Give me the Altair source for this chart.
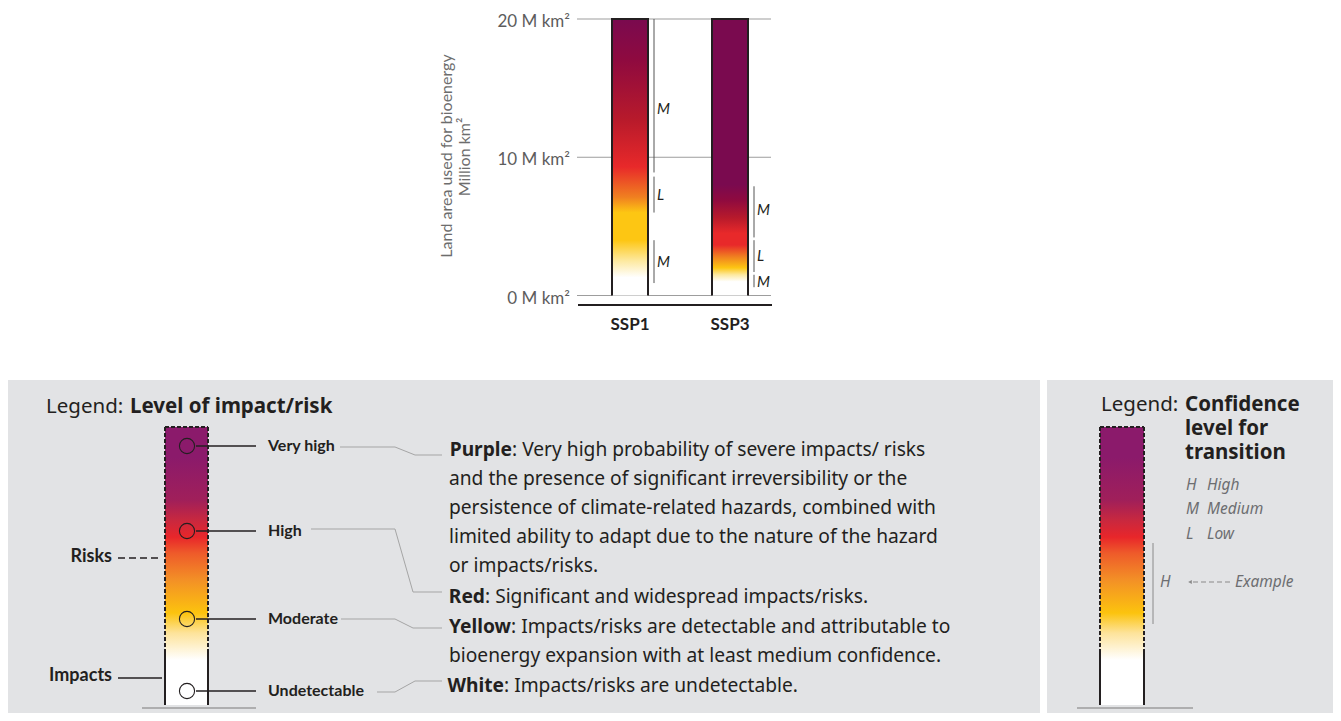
import altair as alt
import pandas as pd

W, H, OFF = 1325, 705, 8
FONT = 'Lato'
NOTO = 'Noto Sans'
INK = '#231f20'
GRID = '#9d9d9d'
PANEL = '#e2e3e5'
SOFT = '#6d6e71'

# ---------------- data ----------------
scenarios = ['SSP1', 'SSP3']
bar_base = [0, 0]
bar_top = [20, 20]
tick_values = [0, 10, 20]
tick_labels = ['0 M km²', '10 M km²', '20 M km²']
axis_title = ['Land area used for bioenergy', 'Million km²']

conf_scenario = ['SSP1', 'SSP1', 'SSP1', 'SSP3', 'SSP3', 'SSP3']
conf_low = [8.9, 6.0, 0.9, 4.2, 1.7, 0.6]
conf_high = [20.0, 8.6, 4.0, 7.9, 4.0, 1.5]
conf_label_at = [13.5, 7.3, 2.45, 6.2, 2.85, 1.0]
conf_level = ['M', 'L', 'M', 'M', 'L', 'M']

ssp1_stop_offsets = [0.0, 0.065, 0.125, 0.2, 0.3, 0.355, 0.465, 0.635, 0.85, 1.0]
ssp1_stop_colors = ['#ffffff', '#ffffff', '#fde9a0', '#fdc613', '#fdc613', '#f08020',
                    '#e8292a', '#b81a2b', '#8f0a3f', '#7a0a4f']
ssp3_stop_offsets = [0.0, 0.05, 0.075, 0.1, 0.14, 0.183, 0.225, 0.28, 0.345, 0.4, 1.0]
ssp3_stop_colors = ['#ffffff', '#ffffff', '#fde9a0', '#fdc613', '#f08020', '#e8292a',
                    '#e8292a', '#b81a2b', '#8f0a3f', '#7a0a4f', '#7a0a4f']
legend_stop_offsets = [0.0, 0.162, 0.259, 0.331, 0.45, 0.547, 0.604, 0.665, 0.737, 0.892, 1.0]
legend_stop_colors = ['#ffffff', '#ffffff', '#fde39a', '#fcc30e', '#f39026', '#ee5a2a',
                      '#e8262a', '#c8283f', '#a01f5a', '#8b1a6b', '#8b1a6b']

risk_levels = ['Very high', 'High', 'Moderate', 'Undetectable']
risk_groups = ['Risks', 'Impacts']
confidence_codes = ['H', 'M', 'L']
confidence_names = ['High', 'Medium', 'Low']
legend_titles = ['Legend:', 'Level of impact/risk', 'Legend:', 'Confidence', 'level for', 'transition']
example_labels = ['H', 'Example']

desc_head = ['Purple', '', '', '', '', 'Red', 'Yellow', '', 'White']
desc_body = [': Very high probability of severe impacts/ risks',
             'and the presence of significant irreversibility or the',
             'persistence of climate-related hazards, combined with',
             'limited ability to adapt due to the nature of the hazard',
             'or impacts/risks.',
             ': Significant and widespread impacts/risks.',
             ': Impacts/risks are detectable and attributable to',
             'bioenergy expansion with at least medium confidence.',
             ': Impacts/risks are undetectable.']

# ---------------- layout (page pixels) ----------------
desc_y = [450, 479, 508, 537, 566, 597, 627, 656, 686]
desc_body_x = [512, 449, 449, 449, 449, 485, 511, 449, 504]
level_y = [446, 531, 619, 691]


def grad(offsets, colors):
    return alt.LinearGradient(
        gradient='linear',
        stops=[alt.GradientStop(offset=o, color=c) for o, c in zip(offsets, colors)],
        x1=0, x2=0, y1=1, y2=0)


# pixel-frame scales
def X(f):
    return alt.X(f + ':Q', scale=alt.Scale(domain=[OFF, OFF + W], range=[0, W], nice=False, zero=False), axis=None)


def Y(f):
    return alt.Y(f + ':Q', scale=alt.Scale(domain=[OFF, OFF + H], range=[0, H], nice=False, zero=False), axis=None)


def rules(x1, x2, y1, y2, **mark):
    df = pd.DataFrame({'x': x1, 'x2': x2, 'y': y1, 'y2': y2})
    return alt.Chart(df).mark_rule(**mark).encode(x=X('x'), x2=alt.X2('x2:Q'), y=Y('y'), y2=alt.Y2('y2:Q'))


def rects(x1, x2, y1, y2, **mark):
    df = pd.DataFrame({'x': x1, 'x2': x2, 'y': y1, 'y2': y2})
    return alt.Chart(df).mark_rect(**mark).encode(x=X('x'), x2=alt.X2('x2:Q'), y=Y('y'), y2=alt.Y2('y2:Q'))


def texts(xs, ys, ts, size, color, font=FONT, **mark):
    df = pd.DataFrame({'x': xs, 'y': ys, 't': ts})
    return alt.Chart(df).mark_text(font=font, baseline='middle', fontSize=size, color=color, **mark).encode(
        x=X('x'), y=Y('y'), text='t:N')


# data-frame scales for the main chart
DY = alt.Scale(domain=[0, 20], range=[295.5 - OFF, 19 - OFF], nice=False, zero=False)
CX = alt.Scale(type='point', domain=scenarios, range=[630 - OFF, 730 - OFF], padding=0)

df_bars = pd.DataFrame({'scenario': scenarios, 'base': bar_base, 'top': bar_top})
df_ticks = pd.DataFrame({'v': tick_values, 'label': tick_labels})
df_conf = pd.DataFrame({'scenario': conf_scenario, 'lo': conf_low, 'hi': conf_high,
                        'at': conf_label_at, 'lvl': conf_level})
one = pd.DataFrame({'a': [0]})

layers = []

# ---- legend panels (background) ----
layers.append(rects([8, 1047], [1040, 1345], [380, 380], [721, 721], color=PANEL))

# ---- main chart ----
layers.append(alt.Chart(df_ticks).mark_rule(color=GRID, strokeWidth=1).encode(
    x=alt.value(577 - OFF), x2=alt.value(771 - OFF), y=alt.Y('v:Q', scale=DY, axis=None)))
layers.append(alt.Chart(df_ticks).mark_text(font=FONT, align='right', baseline='middle', dy=3,
                                              fontSize=17, color='#5d5d5d').encode(
    x=alt.value(570 - OFF), y=alt.Y('v:Q', scale=DY, axis=None), text='label:N'))
layers.append(alt.Chart(one).mark_rule(color=INK, strokeWidth=2).encode(
    x=alt.value(578 - OFF), x2=alt.value(772 - OFF), y=alt.value(305 - OFF)))

for sc, offs, cols in [('SSP1', ssp1_stop_offsets, ssp1_stop_colors),
                       ('SSP3', ssp3_stop_offsets, ssp3_stop_colors)]:
    layers.append(alt.Chart(df_bars).transform_filter(alt.datum.scenario == sc).mark_bar(
        width=36, color=grad(offs, cols)).encode(
        x=alt.X('scenario:N', scale=CX, axis=None),
        y=alt.Y('top:Q', scale=DY, axis=None), y2='base:Q'))

for off in (-18, 18):
    layers.append(alt.Chart(df_bars).mark_rule(color=INK, strokeWidth=2, xOffset=off).encode(
        x=alt.X('scenario:N', scale=CX, axis=None),
        y=alt.Y('top:Q', scale=DY, axis=None), y2='base:Q'))
layers.append(alt.Chart(df_bars).mark_rule(color=INK, strokeWidth=2, xOffset=-19, x2Offset=19).encode(
    x=alt.X('scenario:N', scale=CX, axis=None), x2='scenario:N',
    y=alt.Y('top:Q', scale=DY, axis=None)))

layers.append(alt.Chart(df_bars).mark_text(font=FONT, fontWeight='bold', fontSize=17, color=INK,
                                           baseline='middle').encode(
    x=alt.X('scenario:N', scale=CX, axis=None), y=alt.value(325 - OFF), text='scenario:N'))

layers.append(alt.Chart(df_conf).mark_rule(color='#555555', strokeWidth=1, xOffset=24).encode(
    x=alt.X('scenario:N', scale=CX, axis=None),
    y=alt.Y('lo:Q', scale=DY, axis=None), y2='hi:Q'))
layers.append(alt.Chart(df_conf).mark_text(font=FONT, fontStyle='italic', fontSize=15, color=INK,
                                           align='left', baseline='middle', dx=27).encode(
    x=alt.X('scenario:N', scale=CX, axis=None),
    y=alt.Y('at:Q', scale=DY, axis=None), text='lvl:N'))

layers.append(texts([447, 465], [156, 157], axis_title, 16, '#6d6d6d', angle=270, align='center'))

# ---- left legend ----
layers.append(texts([46], [407], [legend_titles[0]], 20.5, INK, font=NOTO, align='left'))
layers.append(texts([130], [407], [legend_titles[1]], 20.5, INK, font=NOTO, align='left', fontWeight='bold'))
layers.append(rects([165], [208], [427], [705], color=grad(legend_stop_offsets, legend_stop_colors)))
layers.append(rules([165, 208, 165], [165, 208, 208], [427, 427, 427], [653, 653, 427],
                    color=INK, strokeWidth=2, strokeDash=[4, 2]))
layers.append(rules([118], [158], [558], [558], color=INK, strokeWidth=1.5, strokeDash=[7, 4]))
layers.append(rules([165, 208], [165, 208], [653, 653], [705, 705], color=INK, strokeWidth=2))
layers.append(rules([118], [162], [678], [678], color=INK, strokeWidth=1.5))
layers.append(rules([142, 1077], [256, 1193], [708, 708], [708, 708], color=GRID, strokeWidth=1.5))
layers.append(rules([196] * 4, [256] * 4, level_y, level_y, color=INK, strokeWidth=1.5))
layers.append(alt.Chart(pd.DataFrame({'x': [187] * 4, 'y': level_y})).mark_point(
    shape='circle', size=230, filled=False, stroke=INK, strokeWidth=1.1, opacity=1).encode(
    x=X('x'), y=Y('y')))
layers.append(texts([268] * 4, level_y, risk_levels, 16, INK, align='left', fontWeight='bold'))
layers.append(texts([112, 112], [557, 676], risk_groups, 18, INK, align='right', fontWeight='bold'))

lead = pd.DataFrame({
    'id': [0] * 4 + [1] * 4 + [2] * 4 + [3] * 4,
    'k': [0, 1, 2, 3] * 4,
    'x': [340, 395, 415, 442, 311, 395, 413, 442, 341, 395, 413, 442, 377, 395, 415, 442],
    'y': [447, 447, 455, 455, 529, 529, 592, 592, 619, 619, 628, 628, 692, 692, 681, 681]})
layers.append(alt.Chart(lead).mark_line(color='#a5a5a5', strokeWidth=1).encode(
    x=X('x'), y=Y('y'), detail='id:N', order='k:Q'))

heads = [(h, x, y) for h, x, y in zip(desc_head, desc_body_x, desc_y) if h]
layers.append(texts([x for _, x, _ in heads], [y for _, _, y in heads], [h for h, _, _ in heads], 19.2, INK,
                    font=NOTO, align='right', fontWeight='bold'))
layers.append(texts(desc_body_x, desc_y, desc_body, 19.2, INK, font=NOTO, align='left'))

# ---- right legend ----
layers.append(texts([1101], [405], [legend_titles[2]], 20.5, INK, font=NOTO, align='left'))
layers.append(texts([1185], [405], ['\n'.join(legend_titles[3:])], 20.5, INK, font=NOTO,
                    align='left', fontWeight='bold', lineBreak='\n', lineHeight=24))
layers.append(rects([1100], [1144], [427], [705], color=grad(legend_stop_offsets, legend_stop_colors)))
layers.append(rules([1100, 1144, 1100], [1100, 1144, 1144], [427, 427, 427], [653, 653, 427],
                    color=INK, strokeWidth=2, strokeDash=[4, 2]))
layers.append(rules([1100, 1144], [1100, 1144], [653, 653], [705, 705], color=INK, strokeWidth=2))
layers.append(texts([1186] * 3, [485, 509, 534], confidence_codes, 15.5, SOFT, font=NOTO,
                    align='left', fontStyle='italic'))
layers.append(texts([1207] * 3, [485, 509, 534], confidence_names, 15.5, SOFT, font=NOTO,
                    align='left', fontStyle='italic'))
layers.append(rules([1153], [1153], [543], [624], color='#8a8a8a', strokeWidth=1))
layers.append(rules([1193], [1231], [582], [582], color='#8a8a8a', strokeWidth=1.2, strokeDash=[5, 3]))
layers.append(alt.Chart(pd.DataFrame({'x': [1190], 'y': [582]})).mark_point(
    shape='triangle-left', filled=True, size=18, color='#8a8a8a', opacity=1).encode(x=X('x'), y=Y('y')))
layers.append(texts([1160, 1235], [582, 582], example_labels, 15.5, SOFT, font=NOTO,
                    align='left', fontStyle='italic'))

chart = alt.layer(*layers).resolve_scale(x='independent', y='independent').properties(
    width=W, height=H, padding=0,
    autosize=alt.AutoSizeParams(type='fit', contains='padding'),
).configure_view(stroke=None)

chart.save('out.html', embed_options={'renderer': 'svg', 'actions': False})
